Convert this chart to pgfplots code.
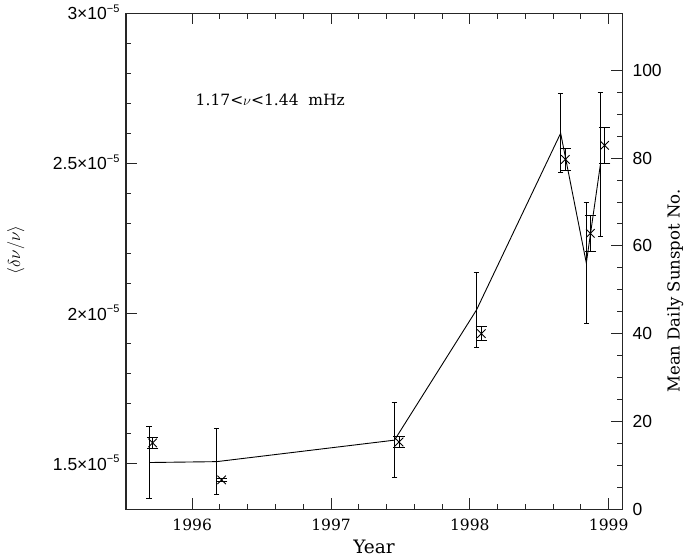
\documentclass[border=0pt]{standalone}
\usepackage{pgfplots}
\pgfplotsset{compat=1.18}
\usepackage{pgfplotstable}
\usepackage{fontspec}
\setmainfont{DejaVu Serif}
\newfontfamily\tickfont{Liberation Sans}

% frequency shifts (left axis)
\pgfplotstableread{
x        y         e
1995.715 1.570e-5  0.018e-5
1996.212 1.447e-5  0.006e-5
1997.490 1.573e-5  0.018e-5
1998.083 1.934e-5  0.023e-5
1998.688 2.514e-5  0.035e-5
1998.868 2.268e-5  0.059e-5
1998.971 2.561e-5  0.060e-5
}\shifts

% mean daily sunspot number (right axis)
\pgfplotstableread{
x        y     e
1995.690 10.6  8.3
1996.176 10.8  7.5
1997.457 15.7  8.5
1998.048 45.4  8.6
1998.654 85.7  9.0
1998.839 56.1  13.7
1998.940 78.5  16.4
}\sunspots

\newcommand{\sci}[1]{#1{\texttimes}10\raisebox{0.42em}{\fontsize{11}{11}\selectfont −5}}

\pgfplotsset{
  common/.style={
    scale only axis, width=496pt, height=495.5pt,
    at={(0pt,0pt)}, anchor=south west,
    xmin=1995.523, xmax=1999.096,
    tick align=inside,
    major tick length=11pt, minor tick length=5.5pt,
    axis line style={line width=1pt, black!85},
    every tick/.style={line width=1pt, black!85},
  },
}

\begin{document}
\begin{tikzpicture}
\begin{axis}[common,
  ymin=1.35e-5, ymax=3e-5,
  scaled y ticks=false,
  xtick={1996,1997,1998,1999}, minor x tick num=4,
  xticklabels={1996,1997,1998,1999},
  xtick pos=both, xticklabel pos=bottom,
  xticklabel style={font=\fontsize{15.5}{18}\selectfont, yshift=-6pt},
  ytick={1.5e-5,2e-5,2.5e-5,3e-5}, minor y tick num=4,
  yticklabels={\sci{1.5},\sci{2},\sci{2.5},\sci{3}},
  ytick pos=left,
  yticklabel style={font=\tickfont\fontsize{17.5}{20}\selectfont, anchor=base east, yshift=-6.2pt, xshift=-3pt},
  xlabel={Year},
  ylabel={$\langle\delta\nu/\nu\rangle$},
  xlabel style={font=\fontsize{18.5}{21}\selectfont, at={(axis description cs:0.5,-0.077)}, anchor=center},
  ylabel style={font=\fontsize{17}{20}\selectfont, at={(axis description cs:-0.222,0.523)}, anchor=center},
]
\addplot[black, line width=0.9pt, only marks, mark=x, mark size=6pt,
  error bars/.cd, y dir=both, y explicit,
  error bar style={line width=0.9pt, black},
  error mark options={rotate=90, mark size=5.8pt, line width=0.9pt, black}]
  table[x=x, y=y, y error=e] {\shifts};
\node[anchor=west, font=\fontsize{15.5}{18}\selectfont] at (axis cs:1996.0,2.714e-5)
  {1.17<$\nu$<1.44\ \ mHz};
\end{axis}
\begin{axis}[common,
  ymin=0, ymax=113,
  hide x axis,
  ytick={0,20,40,60,80,100}, minor y tick num=3,
  yticklabels={0,20,40,60,80,100},
  ytick pos=right, yticklabel pos=right,
  yticklabel style={font=\tickfont\fontsize{17.5}{20}\selectfont, xshift=7pt},
  ylabel={Mean Daily Sunspot No.},
  ylabel style={font=\fontsize{16.5}{20}\selectfont, at={(axis description cs:1.107,0.44)}, anchor=center},
]
\addplot[black, line width=0.9pt, mark=none,
  error bars/.cd, y dir=both, y explicit,
  error bar style={line width=0.9pt, black},
  error mark options={rotate=90, mark size=2.8pt, line width=0.9pt, black}]
  table[x=x, y=y, y error=e] {\sunspots};
\end{axis}
\pgfresetboundingbox
\path[use as bounding box] (-126pt,-50pt) rectangle (561pt,509pt);
\end{tikzpicture}
\end{document}
